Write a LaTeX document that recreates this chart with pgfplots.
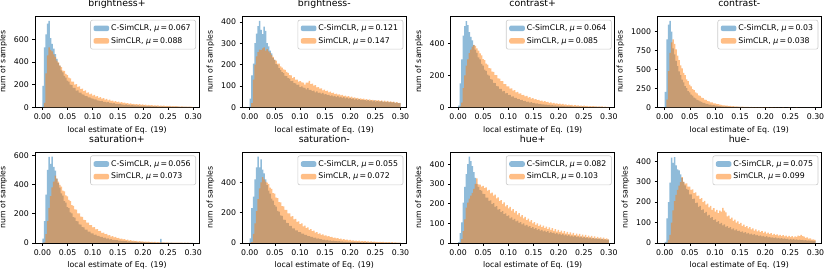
\documentclass[border=0pt]{standalone}
\usepackage{pgfplots}
\pgfplotsset{compat=1.18}
\usepackage{pgfplotstable}
\usepackage{fontspec}
\setmainfont{DejaVu Sans}
\definecolor{c0}{RGB}{31,119,180}
\definecolor{c1}{RGB}{255,127,14}
\definecolor{lg}{RGB}{204,204,204}
\newcommand{\lbl}{\fontsize{7.8}{9.4}\selectfont}
\newcommand{\ttl}{\fontsize{9.36}{11}\selectfont}

\pgfplotstableread{
x c s
0.000 190 0
0.003 530 40
0.006 645 300
0.009 740 460
0.012 765 530
0.015 612 508
0.018 560 495
0.021 518 468
0.024 470 445
0.027 428 412
0.030 392 398
0.033 366 370
0.036 326 356
0.039 308 325
0.042 279 322
0.045 262 295
0.048 236 284
0.051 226 262
0.054 200 255
0.057 196 226
0.060 172 228
0.063 171 200
0.066 148 204
0.069 149 180
0.072 130 184
0.075 129 160
0.078 114 166
0.081 113 143
0.084 99 149
0.087 99 128
0.090 88 133
0.093 88 115
0.096 78 121
0.099 76 103
0.102 69 110
0.105 71 94
0.108 61 99
0.111 60 84
0.114 54 90
0.117 57 76
0.120 49 82
0.123 48 68
0.126 44 74
0.129 46 62
0.132 39 67
0.135 38 56
0.138 35 60
0.141 37 50
0.144 31 55
0.147 30 46
0.150 28 50
0.153 30 42
0.156 25 45
0.159 24 38
0.162 22 41
0.165 25 35
0.168 20 37
0.171 21 31
0.174 18 34
0.177 20 29
0.180 16 31
0.183 17 26
0.186 15 29
0.189 17 24
0.192 13 27
0.195 14 22
0.198 12 25
0.201 14 20
0.204 11 23
0.207 12 18
0.210 10 21
0.213 12 17
0.216 9 19
0.219 10 15
0.222 8 18
0.225 10 14
0.228 7 17
0.231 8 13
0.234 7 15
0.237 8 12
0.240 6 14
0.243 7 11
0.246 5 13
0.249 7 10
0.252 5 12
0.255 6 9
0.258 4 11
0.261 5 8
0.264 4 10
0.267 5 8
0.270 3 9
0.273 4 7
0.276 3 8
0.279 4 6
0.282 3 7
0.285 3 5
0.288 2 7
0.291 3 5
0.294 2 5
0.297 2 4
0.300 2 4
}\tA

\pgfplotstableread{
x c s
0.000 40 0
0.003 150 20
0.006 205 130
0.009 300 200
0.012 345 238
0.015 380 258
0.018 405 270
0.021 362 268
0.024 342 276
0.027 378 280
0.030 358 265
0.033 300 272
0.036 285 262
0.039 265 256
0.042 252 245
0.045 231 236
0.048 222 223
0.051 202 218
0.054 199 204
0.057 183 205
0.060 175 192
0.063 165 186
0.066 160 177
0.069 147 175
0.072 146 166
0.075 137 161
0.078 134 151
0.081 123 149
0.084 124 137
0.087 113 141
0.090 112 130
0.093 105 129
0.096 106 120
0.099 95 122
0.102 98 117
0.105 92 115
0.108 91 106
0.111 84 116
0.114 90 115
0.117 81 124
0.120 82 109
0.123 76 111
0.126 78 101
0.129 70 104
0.132 75 93
0.135 68 95
0.138 69 87
0.141 64 89
0.144 67 79
0.147 60 83
0.150 62 76
0.153 57 78
0.156 58 70
0.159 53 73
0.162 56 66
0.165 51 69
0.168 54 62
0.171 48 64
0.174 52 59
0.177 46 61
0.180 49 56
0.183 44 58
0.186 48 52
0.189 42 55
0.192 45 50
0.195 41 52
0.198 43 47
0.201 38 50
0.204 42 44
0.207 36 47
0.210 40 42
0.213 35 44
0.216 38 39
0.219 34 42
0.222 35 38
0.225 33 40
0.228 34 36
0.231 31 38
0.234 35 34
0.237 29 37
0.240 32 33
0.243 28 35
0.246 32 31
0.249 27 34
0.252 29 31
0.255 28 33
0.258 26 29
0.261 29 32
0.264 25 27
0.267 27 31
0.270 24 26
0.273 26 30
0.276 23 25
0.279 25 28
0.282 22 24
0.285 24 26
0.288 21 22
0.291 22 24
0.294 20 20
0.297 19 21
0.300 19 21
}\tB

\pgfplotstableread{
x c s
0.000 10 0
0.003 150 5
0.006 300 30
0.009 450 120
0.012 510 200
0.015 540 262
0.018 515 300
0.021 472 340
0.024 442 362
0.027 420 380
0.030 390 392
0.033 362 385
0.036 342 370
0.039 314 356
0.042 300 338
0.045 272 326
0.048 262 302
0.051 236 296
0.054 228 274
0.057 205 267
0.060 199 246
0.063 177 244
0.066 174 224
0.069 153 222
0.072 152 202
0.075 133 202
0.078 132 182
0.081 116 180
0.084 115 164
0.087 100 164
0.090 101 146
0.093 87 146
0.096 89 131
0.099 77 131
0.102 78 117
0.105 67 119
0.108 68 104
0.111 59 108
0.114 59 94
0.117 51 97
0.120 52 85
0.123 45 87
0.126 46 77
0.129 39 78
0.132 40 69
0.135 34 71
0.138 36 61
0.141 30 64
0.144 32 55
0.147 26 58
0.150 28 49
0.153 23 52
0.156 25 45
0.159 20 46
0.162 22 40
0.165 18 42
0.168 19 36
0.171 16 38
0.174 17 32
0.177 14 34
0.180 15 28
0.183 12 31
0.186 13 25
0.189 11 28
0.192 12 23
0.195 9 25
0.198 11 20
0.201 8 23
0.204 10 18
0.207 7 21
0.210 9 16
0.213 6 19
0.216 8 14
0.219 5 17
0.222 7 13
0.225 5 15
0.228 6 11
0.231 4 14
0.234 6 10
0.237 4 12
0.240 5 9
0.243 3 11
0.246 5 8
0.249 3 10
0.252 4 7
0.255 3 9
0.258 3 6
0.261 2 8
0.264 3 6
0.267 2 7
0.270 2 5
0.273 2 6
0.276 2 4
0.279 1 5
0.282 2 4
0.285 1 5
0.288 1 3
0.291 1 4
0.294 1 3
0.297 1 3
0.300 1 3
}\tC

\pgfplotstableread{
x c s
0.000 204 0
0.003 900 100
0.006 1095 480
0.009 1145 720
0.012 1000 860
0.015 780 900
0.018 700 840
0.021 615 765
0.024 545 685
0.027 475 625
0.030 425 555
0.033 365 515
0.036 330 455
0.039 280 425
0.042 255 370
0.045 215 345
0.048 196 300
0.051 166 276
0.054 153 240
0.057 128 226
0.060 119 196
0.063 98 184
0.066 92 158
0.069 77 150
0.072 72 128
0.075 59 121
0.078 57 102
0.081 46 98
0.084 45 82
0.087 36 79
0.090 35 66
0.093 27 64
0.096 28 53
0.099 21 52
0.102 22 43
0.105 16 42
0.108 17 34
0.111 12 33
0.114 13 27
0.117 10 27
0.120 11 21
0.123 8 22
0.126 9 17
0.129 6 18
0.132 7 13
0.135 4 14
0.138 6 10
0.141 3 12
0.144 5 8
0.147 2 10
0.150 4 6
0.153 2 8
0.156 3 5
0.159 1 7
0.162 3 4
0.165 1 6
0.168 2 3
0.171 1 4
0.174 1 3
0.177 0 3
0.180 1 2
0.183 0 3
0.186 1 1
0.189 0 2
0.192 1 2
0.195 0 1
0.198 0 2
0.201 0 1
0.204 1 1
0.207 0 0
0.210 0 1
0.213 0 1
0.216 0 0
0.219 0 1
0.222 0 0
0.225 0 1
0.228 0 0
0.231 0 0
0.234 0 1
0.237 0 0
0.240 0 0
0.243 0 0
0.246 0 1
0.249 0 0
0.252 0 0
0.255 0 0
0.258 0 0
0.261 0 1
0.264 0 0
0.267 0 0
0.270 0 0
0.273 0 0
0.276 0 0
0.279 0 0
0.282 0 0
0.285 0 0
0.288 0 0
0.291 0 0
0.294 0 0
0.297 0 0
0.300 0 0
}\tD

\pgfplotstableread{
x c s
0.000 30 0
0.003 150 5
0.006 330 60
0.009 500 150
0.012 588 240
0.015 540 320
0.018 590 380
0.021 520 420
0.024 495 460
0.027 440 440
0.030 410 420
0.033 378 398
0.036 340 386
0.039 324 358
0.042 287 352
0.045 276 326
0.048 245 318
0.051 238 294
0.054 209 286
0.057 203 258
0.060 177 254
0.063 173 230
0.066 150 228
0.069 147 202
0.072 128 202
0.075 126 180
0.078 108 178
0.081 107 158
0.084 91 157
0.087 91 139
0.090 78 139
0.093 77 122
0.096 66 122
0.099 66 107
0.102 56 108
0.105 57 93
0.108 48 94
0.111 49 81
0.114 41 82
0.117 42 70
0.120 35 71
0.123 36 60
0.126 30 62
0.129 31 52
0.132 25 54
0.135 26 44
0.138 22 47
0.141 22 38
0.144 19 41
0.147 19 33
0.150 16 35
0.153 17 28
0.156 14 30
0.159 15 24
0.162 12 26
0.165 13 20
0.168 10 23
0.171 11 17
0.174 9 20
0.177 10 15
0.180 7 17
0.183 9 12
0.186 6 15
0.189 8 10
0.192 5 13
0.195 7 9
0.198 5 11
0.201 6 8
0.204 4 10
0.207 5 7
0.210 4 9
0.213 4 6
0.216 3 8
0.219 4 5
0.222 3 7
0.225 3 5
0.228 2 6
0.231 3 4
0.234 28 5
0.237 2 4
0.240 2 5
0.243 2 3
0.246 1 4
0.249 2 3
0.252 1 3
0.255 2 2
0.258 1 3
0.261 1 2
0.264 1 3
0.267 1 2
0.270 1 2
0.273 1 2
0.276 0 2
0.279 1 1
0.282 0 2
0.285 1 1
0.288 0 2
0.291 0 1
0.294 0 1
0.297 0 1
0.300 0 1
}\tE

\pgfplotstableread{
x c s
0.000 30 0
0.003 230 5
0.006 306 60
0.009 420 130
0.012 500 210
0.015 570 290
0.018 500 360
0.021 552 400
0.024 485 435
0.027 459 420
0.030 420 405
0.033 382 398
0.036 346 388
0.039 326 366
0.042 293 358
0.045 280 330
0.048 250 326
0.051 241 299
0.054 212 296
0.057 207 270
0.060 182 268
0.063 179 243
0.066 155 242
0.069 152 218
0.072 133 218
0.075 131 196
0.078 113 196
0.081 113 174
0.084 97 178
0.087 96 156
0.090 83 159
0.093 83 139
0.096 71 143
0.099 72 124
0.102 62 129
0.105 62 110
0.108 53 115
0.111 54 98
0.114 45 103
0.117 46 87
0.120 40 91
0.123 40 78
0.126 34 81
0.129 35 69
0.132 29 72
0.135 30 61
0.138 25 64
0.141 26 54
0.144 21 57
0.147 23 48
0.150 18 51
0.153 20 43
0.156 16 46
0.159 17 38
0.162 13 41
0.165 15 34
0.168 12 36
0.171 13 30
0.174 10 32
0.177 12 26
0.180 9 29
0.183 10 23
0.186 8 26
0.189 9 20
0.192 7 23
0.195 8 18
0.198 6 21
0.201 7 16
0.204 5 18
0.207 7 14
0.210 4 16
0.213 6 13
0.216 4 15
0.219 6 11
0.222 3 13
0.225 5 10
0.228 3 12
0.231 5 9
0.234 2 11
0.237 4 8
0.240 2 10
0.243 4 7
0.246 2 9
0.249 3 7
0.252 2 8
0.255 3 6
0.258 1 7
0.261 3 5
0.264 1 7
0.267 2 4
0.270 1 6
0.273 2 4
0.276 1 5
0.279 2 3
0.282 1 5
0.285 1 3
0.288 1 4
0.291 1 3
0.294 1 3
0.297 1 3
0.300 1 3
}\tF

\pgfplotstableread{
x c s
0.000 5 0
0.003 50 2
0.006 105 20
0.009 205 60
0.012 285 120
0.015 350 180
0.018 400 205
0.021 438 225
0.024 415 240
0.027 390 255
0.030 360 275
0.033 330 300
0.036 300 328
0.039 285 298
0.042 268 296
0.045 266 286
0.048 250 290
0.051 248 278
0.054 230 282
0.057 230 266
0.060 214 270
0.063 216 252
0.066 197 256
0.069 202 240
0.072 184 246
0.075 187 226
0.078 170 232
0.081 172 212
0.084 157 218
0.087 162 198
0.090 147 206
0.093 150 186
0.096 137 192
0.099 140 176
0.102 125 183
0.105 130 164
0.108 117 172
0.111 122 154
0.114 110 162
0.117 113 144
0.120 102 152
0.123 106 134
0.126 95 142
0.129 99 125
0.132 88 132
0.135 92 116
0.138 83 124
0.141 86 108
0.144 76 116
0.147 81 100
0.150 72 106
0.153 76 92
0.156 67 100
0.159 71 86
0.162 63 93
0.165 67 80
0.168 59 88
0.171 63 75
0.174 55 83
0.177 60 70
0.180 52 79
0.183 56 66
0.186 50 75
0.189 53 62
0.192 46 71
0.195 50 58
0.198 44 67
0.201 48 55
0.204 41 63
0.207 45 52
0.210 39 60
0.213 43 48
0.216 36 57
0.219 40 45
0.222 34 54
0.225 38 42
0.228 32 51
0.231 36 40
0.234 30 48
0.237 34 37
0.240 28 46
0.243 32 34
0.246 26 43
0.249 31 32
0.252 25 41
0.255 29 30
0.258 23 38
0.261 27 28
0.264 22 36
0.267 25 26
0.270 21 34
0.273 24 24
0.276 20 31
0.279 22 23
0.282 18 29
0.285 21 21
0.288 17 27
0.291 19 20
0.294 16 23
0.297 17 19
0.300 17 19
}\tG

\pgfplotstableread{
x c s
0.000 5 0
0.003 120 2
0.006 200 15
0.009 295 40
0.012 418 100
0.015 392 160
0.018 420 205
0.021 380 235
0.024 360 260
0.027 355 280
0.030 335 298
0.033 318 322
0.036 298 300
0.039 282 290
0.042 265 292
0.045 260 276
0.048 238 276
0.051 238 260
0.054 215 262
0.057 217 244
0.060 195 248
0.063 198 230
0.066 177 232
0.069 181 214
0.072 161 220
0.075 165 200
0.078 146 206
0.081 152 188
0.084 134 192
0.087 138 174
0.090 123 182
0.093 126 162
0.096 112 170
0.099 116 154
0.102 102 162
0.105 107 146
0.108 94 158
0.111 98 154
0.114 86 172
0.117 91 158
0.120 79 150
0.123 83 130
0.126 73 134
0.129 77 118
0.132 67 124
0.135 71 108
0.138 62 114
0.141 66 100
0.144 58 106
0.147 61 92
0.150 53 98
0.153 57 84
0.156 49 90
0.159 53 78
0.162 46 83
0.165 49 72
0.168 42 78
0.171 46 66
0.174 40 72
0.177 43 61
0.180 37 67
0.183 40 57
0.186 34 62
0.189 37 53
0.192 32 58
0.195 35 49
0.198 29 55
0.201 33 46
0.204 28 51
0.207 30 43
0.210 26 48
0.213 28 40
0.216 24 45
0.219 27 38
0.222 22 42
0.225 25 36
0.228 21 40
0.231 24 34
0.234 20 38
0.237 22 32
0.240 19 36
0.243 21 30
0.246 17 35
0.249 20 29
0.252 16 33
0.255 19 28
0.258 15 32
0.261 18 30
0.264 14 36
0.267 16 33
0.270 14 40
0.273 15 33
0.276 13 31
0.279 14 25
0.282 12 27
0.285 13 21
0.288 11 22
0.291 12 17
0.294 10 18
0.297 10 15
0.300 10 15
}\tH

\pgfplotsset{panel/.style={
  scale only axis, width=164pt, height=91pt, anchor=south west,
  xmin=-0.0148, xmax=0.3115, ymin=0,
  xtick={0,0.05,0.1,0.15,0.2,0.25,0.3},
  xticklabel style={/pgf/number format/.cd, fixed, fixed zerofill, precision=2},
  yticklabel style={/pgf/number format/.cd, fixed, 1000 sep={}},
  /pgf/number format/assume math mode=true,
  scaled x ticks=false, scaled y ticks=false,
  tick align=outside, tick pos=left, major tick length=2.7pt,
  tick style={black, line width=0.62pt},
  axis line style={line width=0.62pt},
  ticklabel style={font=\lbl},
  label style={font=\lbl},
  title style={font=\ttl, anchor=base, yshift=3.7pt},
  xlabel={local estimate of Eq. (19)},
  ylabel={num of samples},
  legend style={at={(1,1)}, anchor=north east, xshift=-3pt, yshift=-3.5pt,
    draw=lg, line width=0.6pt, rounded corners=2pt, fill=white,
    inner xsep=3pt, inner ysep=2.5pt, row sep=1.2pt, font=\lbl},
  legend cell align=left,
  legend image code/.code={\fill[#1] (0pt,-2.8pt) rectangle (15.6pt,2.8pt);},
}}

\newcommand{\panel}[7]{%
\begin{axis}[panel, at={(#1)}, title={#2}, ymax=#3, ytick={#4}]
\addplot[draw=none, fill=c0, fill opacity=0.5, const plot mark left] table[x=x, y=c] {#5} \closedcycle;
\addlegendentry{C-SimCLR, {\itshape μ}\,=\,#6}
\addplot[draw=none, fill=c1, fill opacity=0.5, const plot mark left] table[x=x, y=s] {#5} \closedcycle;
\addlegendentry{SimCLR, {\itshape μ}\,=\,#7}
\end{axis}}

\begin{document}
\begin{tikzpicture}
\path[use as bounding box] (0,0) rectangle (830pt,272pt);
\panel{35pt,164.7pt}{brightness+}{805}{0,200,400,600}{\tA}{0.067}{0.088}
\panel{242.3pt,164.7pt}{brightness-}{426}{0,100,200,300,400}{\tB}{0.121}{0.147}
\panel{450.7pt,164.7pt}{contrast+}{571}{0,200,400}{\tC}{0.064}{0.085}
\panel{657.3pt,164.7pt}{contrast-}{1204}{0,250,500,750,1000}{\tD}{0.03}{0.038}
\panel{35pt,29pt}{saturation+}{622}{0,200,400,600}{\tE}{0.056}{0.073}
\panel{242.3pt,29pt}{saturation-}{601}{0,200,400}{\tF}{0.055}{0.072}
\panel{450.7pt,29pt}{hue+}{462}{0,100,200,300,400}{\tG}{0.082}{0.103}
\panel{657.3pt,29pt}{hue-}{445}{0,100,200,300,400}{\tH}{0.075}{0.099}
\end{tikzpicture}
\end{document}
